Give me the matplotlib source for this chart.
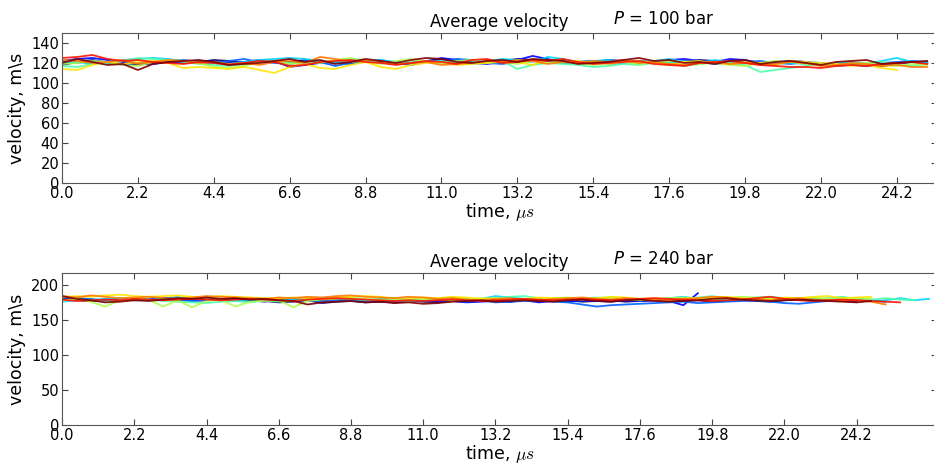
import numpy as np
import matplotlib
matplotlib.use('Agg')
import matplotlib.pyplot as plt

dt = 0.44

# P = 100 bar, one run per colour (jet order)
v100 = [
    [118,121,123,120,119,118,120,121,122,121,123,122,120,121,122,121,123,122,120,121,122,121,119,120,122,124,123,121,120,122,124,123,121,122,120,121,123,122,121,120,122,121,123,122,120,121,119,120,122,121,119,118,120,119,117,119,121,120],
    [122,124,125,123,121,120,119,121,120,122,121,120,121,123,122,116,118,120,121,119,122,121,120,118,121,125,123,120,119,121,123,127,124,120,121,122,120,121,122,120,123,124,122,121,124,123,120,121,122,121,118,117,118,117,118,120,121,120],
    [121,120,122,121,118,120,119,122,123,121,120,122,124,121,120,119,122,121,117,120,121,123,120,119,122,121,124,123,120,119,121,123,122,120,121,122,119,120,122,121,120,122,121,119,120,121,122,120,119,121,120,118,119,117,120,121,122,121],
    [120,121,119,121,123,124,125,124,122,121,120,119,121,123,124,125,124,122,120,121,122,123,121,119,121,122,120,121,122,124,123,121,126,124,121,122,123,121,120,122,124,121,120,123,121,120,119,121,120,119,118,120,121,119,122,125,121,120],
    [117,116,119,120,122,125,124,123,121,119,118,117,119,121,122,120,119,121,122,124,123,120,119,121,122,120,121,119,121,122,114,118,120,119,118,116,117,119,118,120,121,117,119,121,120,118,111,113,115,117,119,118,120,119,121,118,117,119],
    [119,120,122,121,118,117,121,123,122,120,116,115,117,121,122,119,121,120,123,125,121,119,122,124,121,120,122,123,120,121,119,122,120,121,120,118,120,121,119,120,122,121,119,120,118,117,120,122,121,119,118,117,119,120,118,117,119,118],
    [114,113,118,121,119,121,122,120,115,116,115,114,116,113,110,116,119,115,114,118,121,116,114,118,120,121,118,119,120,122,121,118,123,121,122,120,119,121,122,120,118,121,122,120,119,121,120,118,122,121,120,119,117,118,115,113],
    [123,122,120,121,123,119,121,123,122,120,121,119,120,118,121,122,120,126,124,121,123,122,119,120,121,118,119,120,122,121,123,122,119,121,120,122,121,123,120,121,119,118,120,121,119,120,118,119,121,120,117,118,120,119,117,118,116,116],
    [125,126,128,124,122,123,121,120,119,121,120,118,120,122,121,117,118,121,122,123,121,120,118,120,122,121,119,123,124,120,121,123,122,124,121,119,120,121,122,119,118,117,120,121,122,120,118,117,116,116,115,117,118,117,119,120,121,119],
    [120,124,121,118,119,113,119,121,122,123,121,118,119,120,122,124,121,123,119,121,124,122,120,123,125,124,121,120,122,123,121,124,123,122,119,120,121,123,125,122,123,120,121,119,122,123,119,121,122,120,118,121,122,123,119,120,121,122],
]

# P = 240 bar
v240 = [
    [180,178,177,179,180,178,179,181,182,180,179,178,180,179,177,175,176,178,174,176,177,175,176,177,178,176,175,177,176,178,177,176,178,177,179,178,176,177,178,176,177,178,179,177,178,176,177,178,177,176,178,179,177,178,177,176],
    [182,179,177,178,180,179,178,181,180,177,178,179,180,178,176,179,181,180,178,179,178,177,176,175,177,178,176,177,175,176,177,176,178,175,177,176,178,177,176,178,177,178,177,171,188],
    [178,181,180,177,178,179,180,181,178,177,179,180,178,176,178,177,179,178,176,177,178,176,177,175,176,177,178,177,176,178,175,176,177,178,176,175,172,169,171,172,173,174,175,176,174,175,176,177,178,176,174,173,175,177,178,179,177,176],
    [176,178,179,180,181,179,178,180,182,181,179,178,177,179,180,178,179,181,180,182,179,178,180,181,179,178,180,181,179,180,184,182,180,179,178,180,179,181,182,180,178,179,181,183,180,179,178,180,181,182,179,181,180,178,182,180,177,178,181,178,180],
    [177,179,178,176,178,180,179,177,176,175,174,176,177,175,178,176,177,179,180,181,182,179,178,180,181,179,180,182,180,179,181,183,184,181,180,179,180,182,181,180,178,179,181,180,182,184,181,180,182,183,181,180,179,181,183,180,179,181,179,178],
    [178,180,176,169,178,180,179,169,178,168,177,179,169,176,177,178,168,177,179,180,181,180,179,178,177,179,180,178,179,181,180,179,178,180,181,182,180,179,181,180,178,179,181,182,180,179,181,183,182,180,179,181,182,180,179,181,180],
    [182,184,183,185,186,184,183,184,185,183,182,184,183,182,181,180,182,181,180,182,183,184,183,181,180,182,181,183,182,180,181,179,180,182,181,180,179,181,183,182,180,181,179,180,181,182,183,181,180,179,182,181,183,184,181,182,183],
    [184,182,185,183,181,182,183,181,180,182,184,183,182,181,180,182,181,183,182,184,185,183,182,181,183,182,180,181,179,178,180,181,179,178,180,181,182,180,179,181,180,179,178,180,181,183,182,180,179,178,180,181,179,178,177,178,176,172],
    [179,177,178,179,178,180,179,178,179,180,179,178,179,180,179,178,177,179,180,181,180,179,178,177,178,177,178,179,178,177,178,179,180,179,178,179,180,179,178,179,180,181,180,179,178,177,178,179,181,183,180,178,177,178,179,178,177,176,175],
    [184,180,178,175,176,178,177,179,181,180,182,180,181,179,180,178,177,172,175,176,177,175,176,174,175,173,174,176,177,178,176,177,178,177,176,178,179,177,176,178,179,177,176,177,178,180,181,179,178,177,178,179,178,177,176,175,177],
]

pressures = [100, 240]
ylims = [(0, 150), (0, 217)]
yticks = [np.arange(0, 141, 20), np.arange(0, 201, 50)]
xmax = [25.37, 26.65]

plt.rcParams['xtick.direction'] = 'in'
plt.rcParams['ytick.direction'] = 'in'
plt.rcParams['xtick.top'] = True
plt.rcParams['ytick.right'] = True

fig = plt.figure(figsize=(9.34, 4.65), dpi=100)
boxes = [[0.0664, 0.6065, 0.937, 0.3226], [0.0664, 0.086, 0.937, 0.327]]
colors = plt.cm.jet(np.linspace(0, 1, 10))

for k, data in enumerate([v100, v240]):
    ax = fig.add_axes(boxes[k])
    for i, v in enumerate(data):
        t = np.arange(len(v)) * dt
        ax.plot(t, v, color=colors[i], lw=1.3, alpha=0.9)
    ax.set_xlim(0, xmax[k])
    ax.set_ylim(*ylims[k])
    ax.set_yticks(yticks[k])
    ax.set_xticks(np.arange(0, 25, 2.2))
    ax.set_xticklabels(['%.1f' % x for x in np.arange(0, 25, 2.2)])
    ax.tick_params(labelsize=10.5, length=4, color='#444444', pad=2)
    for s in ax.spines.values():
        s.set_color('#555555')
    ax.set_title('Average velocity', fontsize=12, pad=4)
    ax.text(0.63, 1.03, '$P$ = %d bar' % pressures[k], transform=ax.transAxes,
            fontsize=12, va='bottom')
    ax.set_ylabel('velocity, m\\s', fontsize=12.5, labelpad=4)
    ax.set_xlabel('time, $\\mu s$', fontsize=12.5, math_fontfamily='cm', labelpad=0)

plt.savefig('out.png', dpi=100)
plt.close()
